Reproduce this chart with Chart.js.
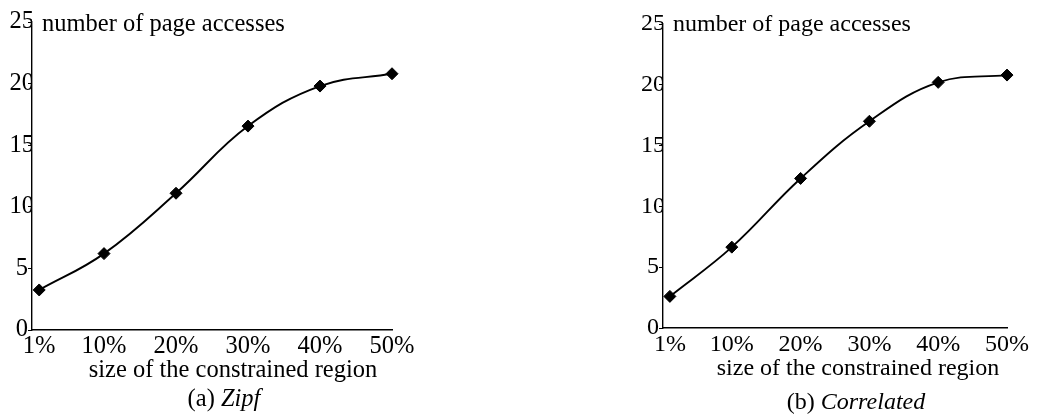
<!DOCTYPE html>
<html>
<head>
<meta charset="utf-8">
<script src="https://cdn.jsdelivr.net/npm/chart.js@4.4.1/dist/chart.umd.min.js"></script>
<style>
  html, body { margin: 0; padding: 0; background: #fff; }
  body { width: 1051px; height: 416px; position: relative; overflow: hidden; }
  .panel { position: absolute; top: 0; height: 416px; }
  #panelA { left: 0; width: 520px; }
  #panelB { left: 520px; width: 531px; }
</style>
</head>
<body>
<div class="panel" id="panelA"><canvas id="chartA" width="520" height="416"></canvas></div>
<div class="panel" id="panelB"><canvas id="chartB" width="531" height="416"></canvas></div>
<script>
// Region sizes (percent of the data space) on the x axis
const regionSizes = [1, 10, 20, 30, 40, 50];
// Average number of page accesses per query
const zipfAccesses = [3.25, 6.2, 11.1, 16.55, 19.8, 20.8];
const correlatedAccesses = [2.6, 6.65, 12.3, 17.0, 20.2, 20.8];
// Axis tick values
const xTickValues = [1, 10, 20, 30, 40, 50];
const yTickValues = [0, 5, 10, 15, 20, 25];

const FONT = '"Liberation Serif", "Times New Roman", serif';

// Draws the axis titles and the panel caption (caption has an italic part)
const panelText = {
  id: 'panelText',
  afterDraw(chart, args, opts) {
    const ctx = chart.ctx;
    const a = chart.chartArea;
    ctx.save();
    ctx.fillStyle = '#000';
    ctx.textBaseline = 'alphabetic';
    ctx.font = opts.size + 'px ' + FONT;
    // y-axis title next to the top tick
    ctx.textAlign = 'left';
    ctx.fillText(opts.yTitle, a.left + opts.yTitleDx, opts.yTitleY);
    // x-axis title
    ctx.textAlign = 'center';
    ctx.fillText(opts.xTitle, opts.xTitleX, opts.xTitleY);
    // caption: "(a) " upright + name in italics
    const plain = opts.captionPrefix;
    const italic = opts.captionName;
    ctx.font = opts.size + 'px ' + FONT;
    const w1 = ctx.measureText(plain).width;
    ctx.font = 'italic ' + opts.size + 'px ' + FONT;
    const w2 = ctx.measureText(italic).width;
    const start = opts.captionX - (w1 + w2) / 2;
    ctx.textAlign = 'left';
    ctx.font = opts.size + 'px ' + FONT;
    ctx.fillText(plain, start, opts.captionY);
    ctx.font = 'italic ' + opts.size + 'px ' + FONT;
    ctx.fillText(italic, start + w1, opts.captionY);
    ctx.restore();
  }
};

function makeChart(id, values, geom, text) {
  return new Chart(document.getElementById(id), {
    type: 'line',
    data: {
      datasets: [{
        data: regionSizes.map((x, i) => ({ x: x, y: values[i] })),
        borderColor: '#000',
        backgroundColor: '#000',
        borderWidth: 1.9,
        tension: 0.4,
        pointStyle: 'rectRot',
        pointRadius: 6,
        pointHoverRadius: 6,
        pointBackgroundColor: '#000',
        pointBorderColor: '#000',
        pointBorderWidth: 1,
        clip: false
      }]
    },
    options: {
      responsive: false,
      animation: false,
      events: [],
      layout: { padding: { left: geom.padLeft, right: geom.padRight, top: geom.padTop, bottom: 0 } },
      plugins: {
        legend: { display: false },
        tooltip: { enabled: false },
        panelText: text
      },
      scales: {
        x: {
          type: 'linear',
          min: 0,
          max: 50,
          afterBuildTicks: s => { s.ticks = xTickValues.map(v => ({ value: v })); },
          afterFit: s => { s.height = geom.xHeight; },
          grid: { display: false, drawTicks: false },
          border: { display: true, color: '#000', width: 1.4 },
          ticks: {
            color: '#000',
            padding: geom.xTickPad,
            maxRotation: 0,
            autoSkip: false,
            font: { family: FONT, size: text.size },
            callback: v => v + '%'
          }
        },
        y: {
          min: 0,
          max: 25,
          afterBuildTicks: s => { s.ticks = yTickValues.map(v => ({ value: v })); },
          afterFit: s => { s.width = geom.yWidth; },
          grid: { display: true, drawOnChartArea: false, drawTicks: true, tickLength: 4, color: '#000', lineWidth: 1 },
          border: { display: true, color: '#000', width: 1.4 },
          ticks: {
            color: '#000',
            padding: geom.yTickPad,
            crossAlign: 'center',
            font: { family: FONT, size: text.size }
          }
        }
      }
    },
    plugins: [panelText]
  });
}

makeChart('chartA', zipfAccesses,
  { padLeft: 0, padRight: 128, padTop: 22, xHeight: 86, yWidth: 32, xTickPad: 2, yTickPad: -6 },
  { size: 24.5, yTitle: 'number of page accesses', yTitleDx: 10, yTitleY: 31,
    xTitle: 'size of the constrained region', xTitleX: 233, xTitleY: 377,
    captionPrefix: '(a) ', captionName: 'Zipf', captionX: 224, captionY: 406 });

makeChart('chartB', correlatedAccesses,
  { padLeft: 111, padRight: 44, padTop: 24, xHeight: 88, yWidth: 32, xTickPad: 2, yTickPad: -6 },
  { size: 24, yTitle: 'number of page accesses', yTitleDx: 10, yTitleY: 31,
    xTitle: 'size of the constrained region', xTitleX: 338, xTitleY: 375,
    captionPrefix: '(b) ', captionName: 'Correlated', captionX: 336, captionY: 409 });
</script>
</body>
</html>
